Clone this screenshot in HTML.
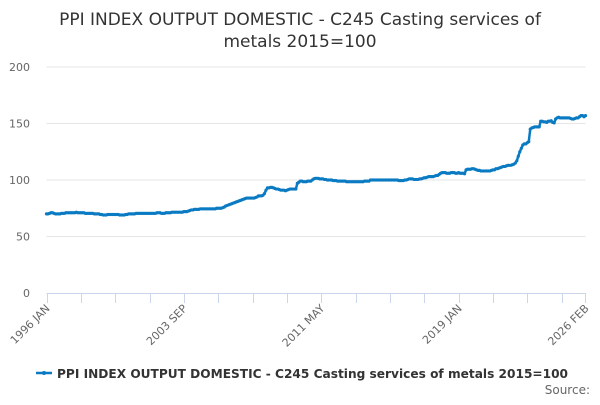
<!DOCTYPE html>
<html><head><meta charset="utf-8"><style>
body{margin:0;background:#fff;font-family:"Liberation Sans","DejaVu Sans",sans-serif}
svg text{font-family:"DejaVu Sans","Liberation Sans",sans-serif}
</style></head><body>
<svg id="chart" width="600" height="400" xmlns="http://www.w3.org/2000/svg">
<text x="300" y="25" text-anchor="middle" font-size="17" fill="#333">PPI INDEX OUTPUT DOMESTIC - C245 Casting services of</text>
<text x="300" y="47" text-anchor="middle" font-size="17" fill="#333">metals 2015=100</text>
<g id="grid"></g><g id="xaxis"></g><g id="series"></g>
<g>
<line x1="36" y1="373" x2="52" y2="373" stroke="#0a7bc2" stroke-width="2.5"/>
<circle cx="44" cy="373" r="2" fill="#0a7bc2"/>
<text x="57" y="378" font-size="12.2" font-weight="bold" fill="#333" textLength="511" lengthAdjust="spacingAndGlyphs">PPI INDEX OUTPUT DOMESTIC - C245 Casting services of metals 2015=100</text>
</g>
<text x="590" y="394" text-anchor="end" font-size="12" fill="#666">Source:</text>
</svg>
<script>
const yTicks=[0,50,100,150,200];
const xLabels=["1996 JAN","2003 SEP","2011 MAY","2019 JAN","2026 FEB"];
const values=[
70,70,70.5,71,71,70.5,70,70,70,70,70.5,70.5,
70.5,71,71,71,71,71,71,71,71.5,71,71,71,
71,71,70.5,70.5,70.5,70.5,70.5,70.5,70,70,70,70,
69.5,69.5,69,69,69,69.5,69.5,69.5,69.5,69.5,69.5,69.5,
69.5,69,69,69,69,69.5,69.5,70,70,70,70,70,
70.5,70.5,70.5,70.5,70.5,70.5,70.5,70.5,70.5,70.5,70.5,70.5,
70.5,70.5,71,71,71,70.5,70.5,70.5,71,71,71,71,
71.5,71.5,71.5,71.5,71.5,71.5,71.5,71.5,72,72,72,72.5,
73,73.5,73.5,74,74,74,74,74.5,74.5,74.5,74.5,74.5,
74.5,74.5,74.5,74.5,74.5,74.5,75,75,75,75,75.5,76,
77,77.5,78,78.5,79,79.5,80,80.5,81,81.5,82,82.5,
83,83.5,84,84,84,84,84,84,84.5,85,86,86,
86,86.5,88,91,93,93,93.5,93.5,93,92.5,92,92,
91.5,91,91,91,90.5,91,91.5,92,92,92,92,92,
97,98,99,99,98.5,98.5,98.5,99,99,99,100,101,
101.5,101.5,101.5,101,101,101,100.5,100.5,100,100,100,100,
99.5,99.5,99.5,99,99,99,99,99,99,98.5,98.5,98.5,
98.5,98.5,98.5,98.5,98.5,98.5,98.5,98.5,98.5,99,99,99,
99,100,100,100,100,100,100,100,100,100,100,100,
100,100,100,100,100,100,100,100,99.5,99.5,99.5,99.5,
100,100,100.5,101,101,101,100.5,100.5,100.5,100.5,101,101,
101.5,102,102,102.5,103,103,103,103,103.5,104,104,105,
106,106.5,106.5,106.5,106,106,106,106.5,106.5,106.5,106,106,
106.5,106,106,106,105.5,109,109.5,109.5,109.5,110,110,109.5,
109,108.5,108.5,108,108,108,108,108,108,108,108.5,109,
109,110,110,110.5,111,111.5,112,112,112.5,113,113,113,
113.5,114,115,117,121,125,128,131,132,132,133,134,
145,146,146.5,147,147,147,147,152,152,151.5,151.5,151,
152,152,152.5,151,150.5,154,155,155.5,155,155,155,155,
155,155,155,154.5,154,154,154.5,155,155,156,157,157,
156,157];
const NS="http://www.w3.org/2000/svg";
const X0=46.5,X1=585.5,Y0=293,Y1=67,N=values.length;
const xs=i=>X0+(X1-X0)*i/(N-1);
const ys=v=>Y0-(Y0-Y1)*v/200;
function mk(t,a,p){const e=document.createElementNS(NS,t);for(const k in a)e.setAttribute(k,a[k]);p.appendChild(e);return e;}
const grid=document.getElementById('grid');
yTicks.forEach(t=>{
 if(t>0){const l=mk('line',{x1:X0,x2:X1,y1:ys(t),y2:ys(t),stroke:'#e6e6e6'},grid);
 
 }
 const tx=mk('text',{x:30,y:ys(t)+4,'text-anchor':'end','font-size':11,fill:'#666'},grid);
 tx.textContent=t;
 
 
});
const xa=document.getElementById('xaxis');
const al=mk('line',{x1:X0,x2:X1,y1:Y0+0.5,y2:Y0+0.5,stroke:'#ccd6eb'},xa);


for(let i=0;i<N;i+=23){const x=Math.round(xs(i))+0.5;
 const tk=mk('line',{x1:x,x2:x,y1:Y0,y2:Y0+10,stroke:'#ccd6eb'},xa);
 
 }
const tkl=mk('line',{x1:X1,x2:X1,y1:Y0,y2:Y0+10,stroke:'#ccd6eb'},xa);


xLabels.forEach((s,k)=>{const i=k*92<N?k*92:N-1;const x=xs(Math.min(i,N-1))+4;
 const t=mk('text',{x:x,y:Y0+16,'text-anchor':'end','font-size':11,fill:'#666',transform:`rotate(-45 ${x} ${Y0+16})`},xa);
 t.textContent=s;
 
 
});
const ser=document.getElementById('series');
const p=mk('path',{d:values.map((v,i)=>(i?'L':'M')+xs(i).toFixed(2)+' '+ys(v).toFixed(2)).join(''),fill:'none',stroke:'#0a7bc2','stroke-width':2.5,'stroke-linejoin':'round'},ser);


values.forEach((v,i)=>{const c=mk('circle',{cx:xs(i),cy:ys(v),r:1.6,fill:'#0a7bc2'},ser);
 
 });
</script>
</body></html>
